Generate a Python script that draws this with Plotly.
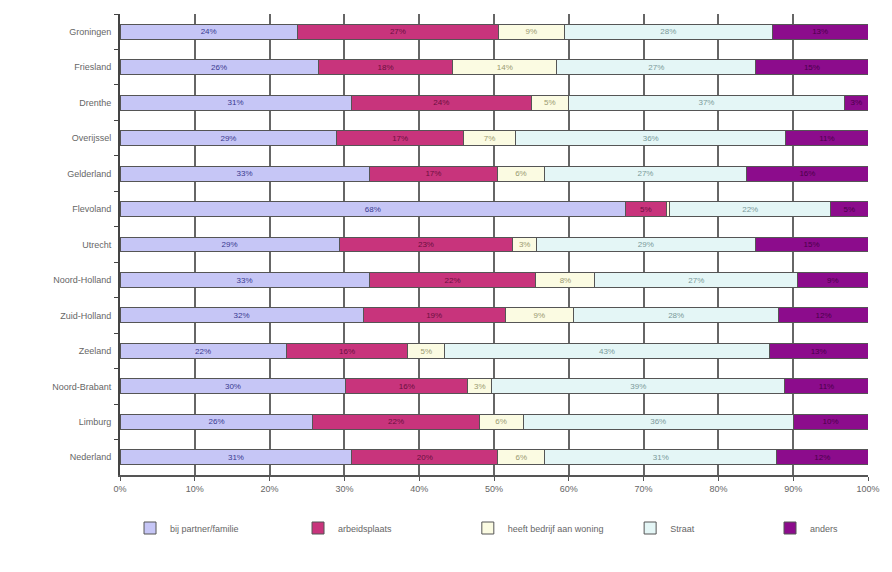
import plotly.graph_objects as go

provinces = ["Groningen", "Friesland", "Drenthe", "Overijssel", "Gelderland", "Flevoland",
             "Utrecht", "Noord-Holland", "Zuid-Holland", "Zeeland", "Noord-Brabant",
             "Limburg", "Nederland"]

series_names = ["bij partner/familie", "arbeidsplaats", "heeft bedrijf aan woning", "Straat", "anders"]

s1 = [23.7, 26.5, 30.9, 29.0, 33.3, 67.6, 29.3, 33.3, 32.5, 22.2, 30.2, 25.8, 31.0]
s2 = [26.9, 18.0, 24.1, 16.9, 17.2, 5.4, 23.2, 22.3, 19.0, 16.3, 16.3, 22.2, 19.5]
s3 = [8.8, 13.9, 4.9, 7.0, 6.2, 0.5, 3.2, 7.9, 9.1, 4.9, 3.2, 5.9, 6.3]
s4 = [27.8, 26.6, 37.0, 36.1, 27.1, 21.5, 29.2, 27.1, 27.5, 43.4, 39.2, 36.1, 31.0]
s5 = [12.8, 15.0, 3.1, 11.0, 16.2, 5.0, 15.1, 9.4, 11.9, 13.2, 11.1, 10.0, 12.2]

x_ticks = [0, 10, 20, 30, 40, 50, 60, 70, 80, 90, 100]

colors = ["#c6c6f6", "#c8347c", "#fbfbe2", "#e4f6f6", "#8c0c8c"]
text_colors = ["#3a3a90", "#6a1040", "#9a9a70", "#7a9a9a", "#4a004a"]
legend_ids = ["legend", "legend2", "legend3", "legend4", "legend5"]
legend_x = [0.0134, 0.238, 0.465, 0.682, 0.869]

fig = go.Figure()
for name, vals, c, tc, lid in zip(series_names, [s1, s2, s3, s4, s5], colors, text_colors, legend_ids):
    fig.add_trace(go.Bar(
        y=provinces, x=vals, name=name, orientation="h",
        marker=dict(color=c, line=dict(color="#555555", width=1)),
        text=[f"{round(v)}%" for v in vals],
        textposition="inside", insidetextanchor="middle",
        textfont=dict(size=9, color=tc, family="Liberation Sans"),
        hoverinfo="x+y+name",
        legend=lid,
    ))

legend_common = dict(orientation="h", xanchor="left", y=-0.115, yanchor="middle",
                     itemwidth=30, font=dict(size=9, color="#666666"),
                     bgcolor="rgba(0,0,0,0)")
layout_legends = {lid: dict(x=lx, **legend_common) for lid, lx in zip(legend_ids, legend_x)}

fig.update_layout(
    barmode="stack",
    bargap=0.58,
    width=892, height=572,
    margin=dict(l=112, r=32, t=6, b=105),
    paper_bgcolor="white", plot_bgcolor="white",
    font=dict(family="Liberation Sans", size=9, color="#666666"),
    uniformtext=dict(minsize=7, mode="hide"),
    showlegend=True,
    **layout_legends,
)
fig.update_xaxes(range=[0, 100], tickvals=x_ticks, ticktext=[f"{t}%" for t in x_ticks],
                 showgrid=True, gridcolor="#666666", gridwidth=1.5,
                 showline=True, linecolor="#555555", linewidth=1.5,
                 ticks="outside", ticklen=4, tickcolor="#555555",
                 zeroline=False, mirror=False, fixedrange=True)
fig.update_yaxes(autorange="reversed", showline=True, linecolor="#444444", linewidth=2,
                 ticks="outside", tickson="boundaries", ticklen=4, tickcolor="#444444",
                 showgrid=False, ticksuffix="  ", fixedrange=True)

fig.write_html("out.html")
